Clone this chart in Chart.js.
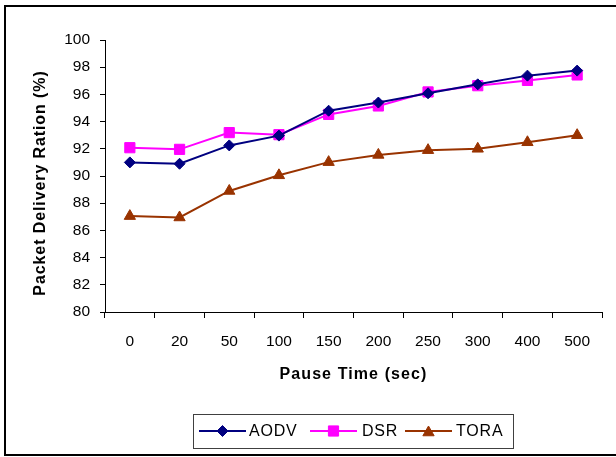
<!DOCTYPE html>
<html>
<head>
<meta charset="utf-8">
<script src="https://cdn.jsdelivr.net/npm/chart.js@4/dist/chart.umd.min.js"></script>
<style>
  html, body { margin: 0; padding: 0; background: #ffffff; }
  #wrap { width: 616px; height: 457px; position: relative; }
</style>
</head>
<body>
<div id="wrap"><canvas id="c" width="616" height="457"></canvas></div>
<script>
const categories = ["0", "20", "50", "100", "150", "200", "250", "300", "400", "500"];
const aodv = [91.0, 90.9, 92.25, 92.97, 94.8, 95.4, 96.08, 96.74, 97.38, 97.75];
const dsr  = [92.08, 91.96, 93.19, 93.04, 94.53, 95.15, 96.18, 96.64, 97.03, 97.43];
const tora = [87.05, 86.95, 88.9, 90.05, 91.02, 91.55, 91.9, 92.0, 92.48, 93.0];
const seriesNames = ["AODV", "DSR", "TORA"];
const yTitle = "Packet Delivery Ration (%)";
const xTitle = "Pause Time (sec)";

const FONT = "'Liberation Sans', Arial, sans-serif";

const frameAndLegend = {
  id: 'frameAndLegend',
  beforeDraw(chart) {
    // letter spacing for axis titles (Excel-like)
    ['x', 'y'].forEach(id => {
      const s = chart.scales[id];
      if (s && !s._lsPatched) {
        const orig = s.drawTitle;
        s.drawTitle = function () {
          const ctx = this.ctx;
          ctx.save();
          ctx.letterSpacing = id === 'x' ? '1.1px' : '0.9px';
          if (id === 'y') ctx.translate(0, 7);
          orig.call(this);
          ctx.restore();
        };
        s._lsPatched = true;
      }
    });
  },
  afterDraw(chart) {
    const ctx = chart.ctx;
    ctx.save();
    // outer frame
    ctx.strokeStyle = '#000000';
    ctx.lineWidth = 2;
    ctx.strokeRect(5, 6, 620, 449);
    // legend box
    ctx.lineWidth = 1;
    ctx.strokeStyle = '#404040';
    ctx.strokeRect(193.5, 414.5, 320, 34);
    const items = [
      { x1: 199, x2: 246, tx: 249 },
      { x1: 310, x2: 357, tx: 362 },
      { x1: 405, x2: 452, tx: 456 }
    ];
    const y = 431;
    chart.data.datasets.forEach((ds, i) => {
      const it = items[i];
      ctx.strokeStyle = ds.borderColor;
      ctx.lineWidth = ds.borderWidth;
      ctx.beginPath();
      ctx.moveTo(it.x1, y);
      ctx.lineTo(it.x2, y);
      ctx.stroke();
      ctx.fillStyle = ds.pointBackgroundColor;
      ctx.strokeStyle = ds.pointBorderColor;
      ctx.lineWidth = 1;
      Chart.helpers.drawPoint(ctx, { pointStyle: ds.pointStyle, radius: ds.pointRadius, rotation: 0, borderWidth: 1 }, (it.x1 + it.x2) / 2, ds.pointStyle === 'triangle' ? y + 1.5 : y);
      ctx.fillStyle = '#000000';
      ctx.font = '16px ' + FONT;
      ctx.textBaseline = 'middle';
      ctx.textAlign = 'left';
      ctx.letterSpacing = '0.8px';
      ctx.fillText(ds.label, it.tx, y + 1);
      ctx.letterSpacing = '0px';
    });
    ctx.restore();
  }
};

const colors = ['#000080', '#FF00FF', '#993300'];
const styles = ['rectRot', 'rect', 'triangle'];
const radii = [5.5, 7.2, 6.5];
const seriesData = [aodv, dsr, tora];

new Chart(document.getElementById('c'), {
  type: 'line',
  data: {
    labels: categories,
    datasets: seriesData.map((d, i) => ({
      label: seriesNames[i],
      data: d,
      borderColor: colors[i],
      backgroundColor: colors[i],
      borderWidth: 2,
      pointStyle: styles[i],
      pointRadius: radii[i],
      pointHoverRadius: radii[i],
      pointBackgroundColor: colors[i],
      pointBorderColor: colors[i],
      pointBorderWidth: 1,
      tension: 0,
      fill: false
    }))
  },
  options: {
    responsive: false,
    animation: false,
    devicePixelRatio: 1,
    layout: { padding: { left: 0, top: 40, right: 14, bottom: 0 } },
    plugins: {
      legend: { display: false },
      tooltip: { enabled: false },
      title: { display: false }
    },
    scales: {
      x: {
        type: 'category',
        offset: true,
        afterFit(scale) { scale.height = 145; },
        grid: {
          display: true,
          offset: true,
          drawOnChartArea: false,
          drawTicks: true,
          tickLength: 6,
          color: '#000000',
          lineWidth: 1
        },
        border: { display: true, color: '#000000', width: 1 },
        ticks: {
          color: '#000000',
          font: { family: FONT, size: 15.5 },
          padding: 14,
          maxRotation: 0,
          autoSkip: false
        },
        title: {
          display: true,
          text: xTitle,
          color: '#000000',
          font: { family: FONT, size: 16, weight: 'bold' },
          padding: { top: 0, bottom: 73 }
        }
      },
      y: {
        min: 80,
        max: 100,
        afterFit(scale) { scale.width = 105; },
        grid: {
          display: true,
          drawOnChartArea: false,
          drawTicks: true,
          tickLength: 5,
          color: '#000000',
          lineWidth: 1
        },
        border: { display: true, color: '#000000', width: 1 },
        ticks: {
          stepSize: 2,
          color: '#000000',
          font: { family: FONT, size: 15.5 },
          padding: 10
        },
        title: {
          display: true,
          text: yTitle,
          color: '#000000',
          font: { family: FONT, size: 16, weight: 'bold' },
          padding: { top: 31, bottom: 0 }
        }
      }
    }
  },
  plugins: [frameAndLegend]
});
</script>
</body>
</html>
